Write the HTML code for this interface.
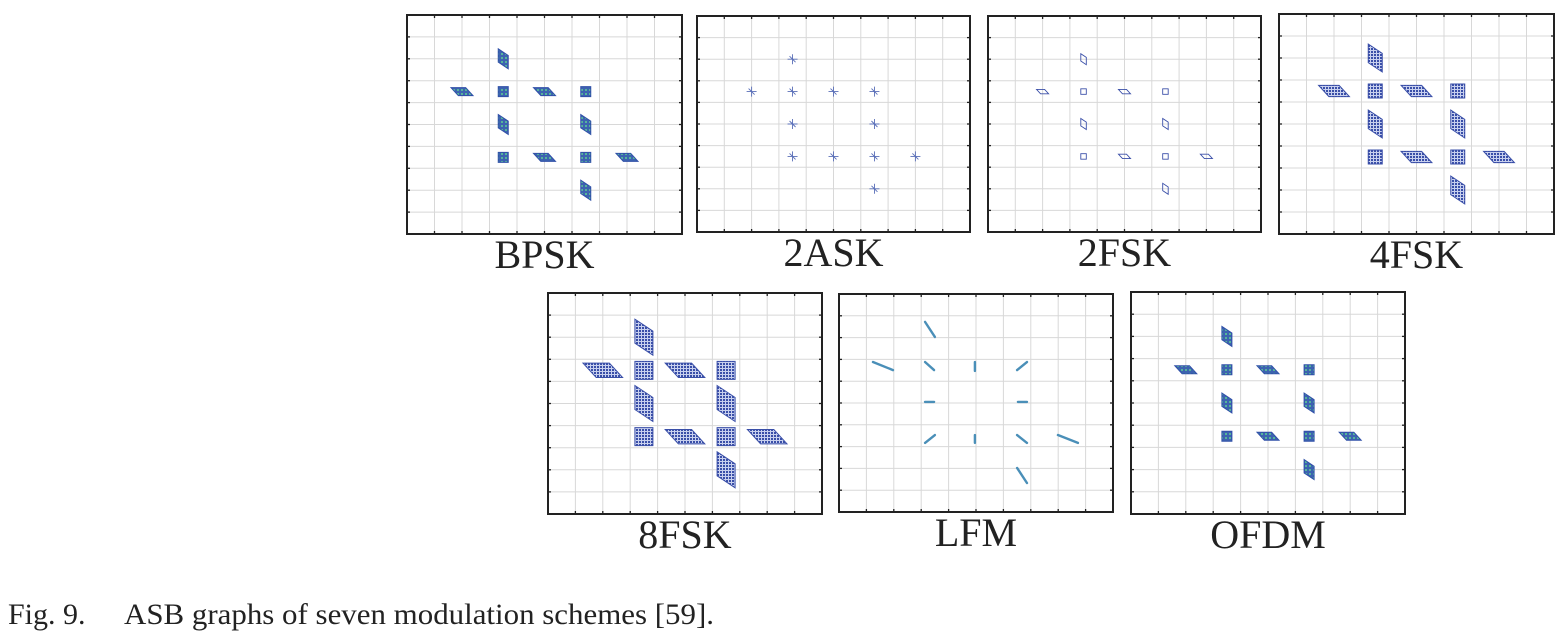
<!DOCTYPE html>
<html><head><meta charset="utf-8"><style>
body{margin:0;background:#fff;width:1568px;height:638px;overflow:hidden;font-family:"Liberation Serif",serif}
svg{position:absolute;left:0;top:0}
</style></head><body>
<svg id="fig" width="1568" height="638">
<defs>
<pattern id="dots" width="4" height="4" patternUnits="userSpaceOnUse"><rect width="4" height="4" fill="#3d63b0"/><rect x="1" y="1" width="2" height="2" fill="#55b59a"/></pattern>
<pattern id="dots2" width="3" height="3" patternUnits="userSpaceOnUse"><rect width="3" height="3" fill="#c8d0ee"/><rect x="0" y="0" width="2" height="2" fill="#3a4fa8"/></pattern>
</defs>
<g font-size="30" fill="#222">
<text x="8" y="624">Fig. 9.</text>
<text x="124" y="624" textLength="590" lengthAdjust="spacingAndGlyphs">ASB graphs of seven modulation schemes [59].</text>
</g>
</svg>
<script>
// panels: name, box left, top, width, height
const panelNames=["BPSK","2ASK","2FSK","4FSK","8FSK","LFM","OFDM"];
const panelX=[407,697,988,1279,548,839,1131];
const panelY=[15,16,16,14,293,294,292];
const panelW=[275,273,273,275,274,274,274];
const panelH=[219,216,216,220,221,218,222];
const panelStyle=["fill","cross","outline","dots","dots","line","fill"];
const panelScale=[1,1,1,1.4,1.8,1,1];
// constellation: grid-unit positions (col,row) and blob type
const blobCol=[3.5,2,3.5,5,6.5,3.5,6.5,3.5,5,6.5,8,6.5];
const blobRow=[2,3.5,3.5,3.5,3.5,5,5,6.5,6.5,6.5,6.5,8];
const blobType=["v","h","s","h","s","v","v","s","h","s","h","v"];
// LFM line segments in grid units
const lfmX1=[3.14,1.24,3.14,4.96,6.86,3.14,6.53,3.14,4.96,6.50,7.99,6.50];
const lfmY1=[1.28,3.12,3.12,3.12,3.12,4.95,4.95,6.83,6.47,6.47,6.47,7.98];
const lfmX2=[3.50,1.97,3.47,4.96,6.50,3.47,6.86,3.50,4.96,6.86,8.72,6.86];
const lfmY2=[1.97,3.49,3.49,3.53,3.49,4.95,4.95,6.47,6.83,6.83,6.83,8.67];
const NS="http://www.w3.org/2000/svg";
const svg=document.getElementById("fig");
function mk(t,a){const e=document.createElementNS(NS,t);for(const k in a)e.setAttribute(k,a[k]);return e;}
panelNames.forEach((name,p)=>{
  const x0=panelX[p],y0=panelY[p],W=panelW[p],H=panelH[p];
  const g=mk("g",{});
  
  
  svg.appendChild(g);
  const cx=c=>x0+c*W/10, cy=r=>y0+r*H/10;
  for(let i=1;i<10;i++){
    g.appendChild(mk("line",{x1:cx(i),x2:cx(i),y1:y0,y2:y0+H,stroke:"#d8d8d8","stroke-width":1}));
    g.appendChild(mk("line",{x1:x0,x2:x0+W,y1:cy(i),y2:cy(i),stroke:"#d8d8d8","stroke-width":1}));
    g.appendChild(mk("line",{x1:cx(i),x2:cx(i),y1:y0,y2:y0+3,stroke:"#222","stroke-width":1.3}));
    g.appendChild(mk("line",{x1:cx(i),x2:cx(i),y1:y0+H,y2:y0+H-3,stroke:"#222","stroke-width":1.3}));
    g.appendChild(mk("line",{x1:x0,x2:x0+3,y1:cy(i),y2:cy(i),stroke:"#222","stroke-width":1.3}));
    g.appendChild(mk("line",{x1:x0+W,x2:x0+W-3,y1:cy(i),y2:cy(i),stroke:"#222","stroke-width":1.3}));
  }
  const box=mk("rect",{x:x0,y:y0,width:W,height:H,fill:"none",stroke:"#222","stroke-width":2});
  
  
  g.appendChild(box);
  const st=panelStyle[p], s=panelScale[p];
  if(st==="line"){
    lfmX1.forEach((v,i)=>{
      const el=mk("line",{x1:cx(v),y1:cy(lfmY1[i]),x2:cx(lfmX2[i]),y2:cy(lfmY2[i]),stroke:"#4a8fb8","stroke-width":2.4,"stroke-linecap":"round"});
      
      
      g.appendChild(el);
    });
  } else blobCol.forEach((c,i)=>{
    const X=cx(c),Y=cy(blobRow[i]),t=blobType[i];
    let el;
    if(st==="cross"){
      el=mk("path",{d:`M${X-5} ${Y}h10M${X} ${Y-5}v10M${X-3} ${Y-3}l6 6`,stroke:"#5a6fb8","stroke-width":0.9,fill:"none"});
    } else {
      let w,h,d;
      if(t==="h"){w=22*s;h=8*s;d=`M${X-w/2} ${Y-h/2}L${X+w/6} ${Y-h/2}L${X+w/2} ${Y+h/2}L${X-w/6} ${Y+h/2}Z`;}
      else if(t==="v"){w=10*s;h=20*s;d=`M${X-w/2} ${Y-h/2}L${X-w/2} ${Y+h/6}L${X+w/2} ${Y+h/2}L${X+w/2} ${Y-h/6}Z`;}
      else {w=10*s;h=10*s;d=`M${X-w/2} ${Y-h/2}h${w}v${h}h${-w}Z`;}
      if(st==="outline") el=mk("path",{d:d,transform:`translate(${X} ${Y}) scale(0.55) translate(${-X} ${-Y})`,fill:"none",stroke:"#3a4fa8","stroke-width":1.6});
      else if(st==="dots") el=mk("path",{d,fill:"url(#dots2)",stroke:"#3a4fa8","stroke-width":1});
      else el=mk("path",{d,fill:"url(#dots)",stroke:"#3050a8","stroke-width":1});
    }
    
    
    g.appendChild(el);
  });
  const lab=mk("text",{x:x0+W/2,y:y0+H+34,"text-anchor":"middle","font-size":40,fill:"#222","font-family":"Liberation Serif, serif"});
  lab.textContent=name;
  
  
  g.appendChild(lab);
});
</script>
</body></html>
